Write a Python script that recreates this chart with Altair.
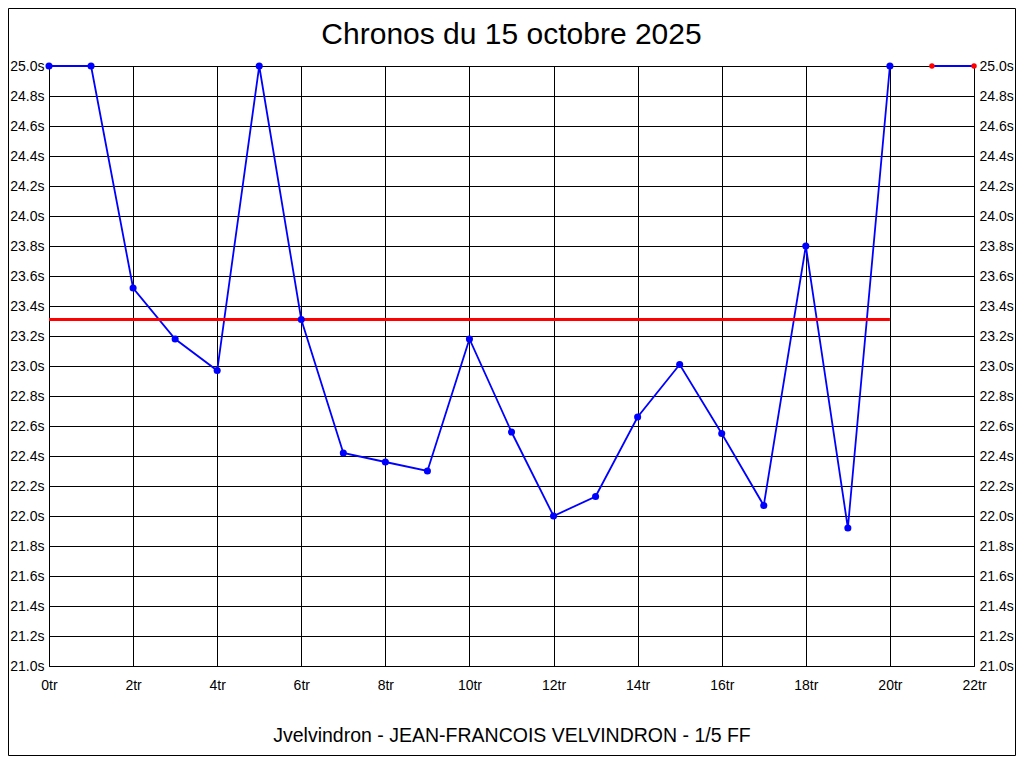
import altair as alt
import pandas as pd

# ---- data ----
laps = list(range(23))
times = [25.00, 25.00, 23.52, 23.18, 22.97, 25.00, 23.31, 22.42, 22.36, 22.30,
         23.18, 22.56, 22.00, 22.13, 22.66, 23.01, 22.55, 22.07, 23.80, 21.92,
         25.00, 25.00, 25.00]
segments = [0] * 21 + [1] * 2
kinds = ["chrono"] * 21 + ["absent"] * 2

mean_value = [23.31]
mean_start = [0]
mean_end = [20]

x_ticks = list(range(0, 23, 2))
y_ticks = [21.0, 21.2, 21.4, 21.6, 21.8, 22.0, 22.2, 22.4, 22.6, 22.8, 23.0,
           23.2, 23.4, 23.6, 23.8, 24.0, 24.2, 24.4, 24.6, 24.8, 25.0]

title_text = "Chronos du 15 octobre 2025"
caption_text = "Jvelvindron - JEAN-FRANCOIS VELVINDRON - 1/5 FF"

FONT = "Liberation Sans"
BLUE = "#0000ff"
RED = "#ff0000"

df = pd.DataFrame({"lap": laps, "time": times, "seg": segments, "kind": kinds})
df_mean = pd.DataFrame({"start": mean_start, "end": mean_end, "mean": mean_value})
df_frame = pd.DataFrame({"k": [0]})

W, H = 925, 600

x_scale = alt.Scale(domain=[0, 22], nice=False, zero=False)
y_scale = alt.Scale(domain=[21, 25], nice=False, zero=False)

x_axis = alt.Axis(
    values=x_ticks, labelExpr="datum.value + 'tr'", grid=True, ticks=False,
    domain=False, labelFont=FONT, labelFontSize=14, labelColor="black",
    labelBaseline="alphabetic", labelPadding=23, labelFlush=False,
    title=caption_text, titleFont=FONT, titleFontSize=19.5, titleFontWeight="normal",
    titleColor="black", titleBaseline="alphabetic", titleY=75, titleX=W / 2,
    titleAlign="center",
)
y_left = alt.Axis(
    values=y_ticks, labelExpr="format(datum.value, '.1f') + 's'", grid=True,
    ticks=False, domain=False, labelFont=FONT, labelFontSize=14,
    labelColor="black", labelPadding=5, title=None, orient="left",
)
y_right = alt.Axis(
    values=y_ticks, labelExpr="format(datum.value, '.1f') + 's'", grid=False,
    ticks=False, domain=False, labelFont=FONT, labelFontSize=14,
    labelColor="black", labelPadding=5, title=None, orient="right",
)

line = alt.Chart(df).mark_line(color=BLUE, strokeWidth=1.8).encode(
    x=alt.X("lap:Q", scale=x_scale, axis=x_axis),
    y=alt.Y("time:Q", scale=y_scale, axis=y_left),
    detail="seg:N",
    order="lap:Q",
)

mean_rule = alt.Chart(df_mean).mark_rule(color=RED, strokeWidth=3).encode(
    x=alt.X("start:Q", scale=x_scale),
    x2="end:Q",
    y=alt.Y("mean:Q", scale=y_scale, axis=None),
)

pts = alt.Chart(df).mark_circle(opacity=1).encode(
    x=alt.X("lap:Q", scale=x_scale),
    y=alt.Y("time:Q", scale=y_scale, axis=y_right),
    color=alt.Color("kind:N", scale=alt.Scale(domain=["chrono", "absent"], range=[BLUE, RED]), legend=None),
    size=alt.Size("kind:N", scale=alt.Scale(domain=["chrono", "absent"], range=[50, 30]), legend=None),
)

frame = alt.Chart(df_frame).mark_rect(fill="transparent", stroke="black", strokeWidth=1).encode(
    x=alt.value(-40.5), x2=alt.value(W + 41.5),
    y=alt.value(-57.5), y2=alt.value(H + 89.5),
)

chart = alt.layer(line, mean_rule, pts, frame).resolve_scale(y="independent").properties(
    width=W, height=H,
    title=alt.TitleParams(title_text, font=FONT, fontSize=30, fontWeight="normal",
                          color="black", anchor="middle", frame="group", offset=-42),
    autosize=alt.AutoSizeParams(type="none"),
    padding={"left": 41, "top": 58, "right": 42, "bottom": 90},
    background="white",
).configure_view(stroke="black", strokeWidth=1).configure_axis(
    gridColor="black", gridOpacity=1, gridWidth=1
)

chart.save("out.html", embed_options={"renderer": "svg", "actions": False})
